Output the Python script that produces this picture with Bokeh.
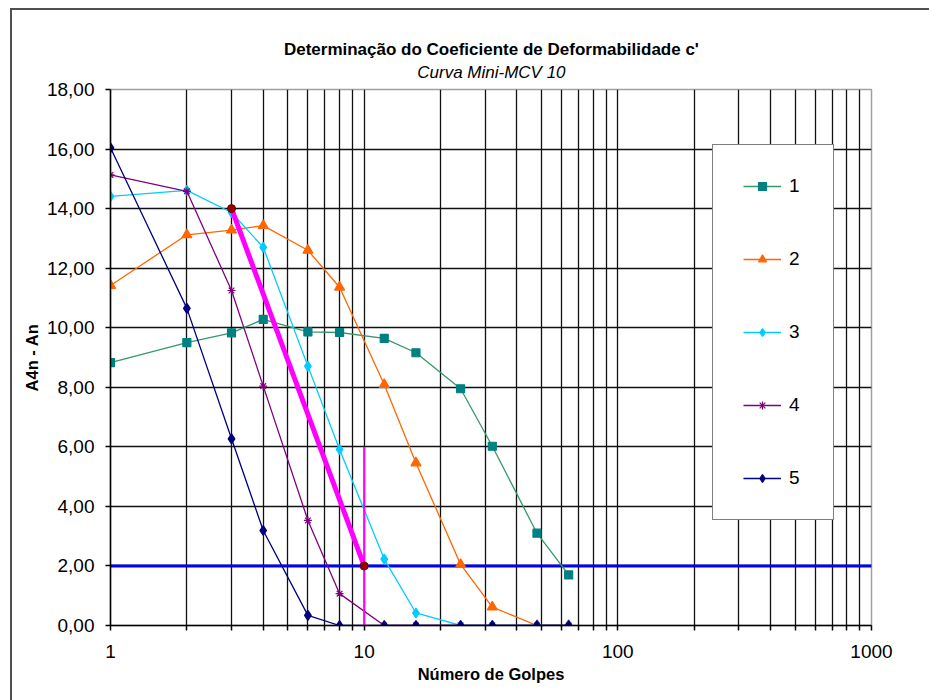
from bokeh.plotting import figure
from bokeh.layouts import column
from bokeh.models import FixedTicker, Range1d
from bokeh.core.properties import value
from bokeh.embed import file_html
from bokeh.resources import INLINE

# Número de golpes (Mini-MCV) and A4n - An readings for each curve
golpes = [1, 2, 3, 4, 6, 8, 12, 16, 24, 32, 48, 64]
curva_1 = [8.83, 9.50, 9.83, 10.28, 9.86, 9.84, 9.64, 9.16, 7.95, 6.02, 3.10, 1.70]
curva_2 = [11.42, 13.12, 13.28, 13.43, 12.60, 11.36, 8.09, 5.46, 2.05, 0.62, 0.00, 0.00]
curva_3 = [14.41, 14.61, 13.87, 12.70, 8.71, 5.91, 2.23, 0.42, 0.00, 0.00, 0.00, 0.00]
curva_4 = [15.13, 14.58, 11.25, 8.04, 3.53, 1.07, 0.00, 0.00, 0.00, 0.00, 0.00, 0.00]
curva_5 = [16.04, 10.65, 6.27, 3.19, 0.34, 0.00, 0.00, 0.00, 0.00, 0.00, 0.00, 0.00]
nomes = ["1", "2", "3", "4", "5"]

# Mini-MCV 10 construction: slope line c' and reference lines
reta_c_x = [3, 10]
reta_c_y = [14.0, 2.0]
vertical_x = [10, 10]
vertical_y = [0.0, 6.0]
referencia_y = 2.0

# Axis ticks
x_ticks = [1, 10, 100, 1000]
x_labels = ["1", "10", "100", "1000"]
y_ticks = [0, 2, 4, 6, 8, 10, 12, 14, 16, 18]
y_labels = ["0,00", "2,00", "4,00", "6,00", "8,00", "10,00", "12,00", "14,00", "16,00", "18,00"]

titulo = "Determinação do Coeficiente de Deformabilidade c'"
subtitulo = "Curva Mini-MCV 10"

FONT = "Liberation Sans"

# ---- heading strip (pixel coordinates, y pointing down) ----
head = figure(
    width=917, height=78,
    x_range=Range1d(0, 917), y_range=Range1d(78, 0),
    x_axis_location=None, y_axis_location=None, title=None,
    output_backend="svg", toolbar_location=None,
    min_border_left=0, min_border_right=0, min_border_top=0, min_border_bottom=0,
    background_fill_color="white", border_fill_color="white",
)
head.outline_line_color = None
head.grid.visible = False
head.text(x=[459], y=[39.3], text=[titulo], text_align="center",
          text_baseline="alphabetic", text_font=value(FONT),
          text_font_style="bold", text_font_size=value("17px"), text_color="black")
head.text(x=[459], y=[61.5], text=[subtitulo], text_align="center",
          text_baseline="alphabetic", text_font=value(FONT),
          text_font_style="italic", text_font_size=value("17px"), text_color="black")

# ---- chart (tucked slightly under the heading strip) ----
p = figure(
    width=917, height=625,
    x_axis_type="log",
    x_range=Range1d(1, 1000), y_range=Range1d(0, 18),
    title=None, margin=(-13, 0, 0, 0),
    output_backend="svg", toolbar_location=None,
    min_border_left=98, min_border_right=58,
    min_border_top=14, min_border_bottom=75,
    background_fill_color="white",
)
p.border_fill_alpha = 0
p.outline_line_color = "#a0a0a0"
p.outline_line_width = 1.5

minor_x = [m * 10 ** k for k in range(3) for m in range(2, 10)]

p.xaxis.ticker = FixedTicker(ticks=x_ticks, minor_ticks=minor_x)
p.xaxis.major_label_overrides = dict(zip(x_ticks, x_labels))
p.yaxis.ticker = FixedTicker(ticks=y_ticks)
p.yaxis.major_label_overrides = dict(zip(y_ticks, y_labels))

for ax in (p.xaxis[0], p.yaxis[0]):
    ax.axis_line_color = "black"
    ax.axis_line_width = 1.5
    ax.major_tick_line_color = "black"
    ax.major_tick_line_width = 1.5
    ax.major_tick_in = 0
    ax.major_tick_out = 5
    ax.major_label_text_font = FONT
    ax.major_label_text_font_size = "19px"
    ax.major_label_text_color = "black"
    ax.axis_label_text_font = FONT
    ax.axis_label_text_font_style = "bold"
    ax.axis_label_text_font_size = "16.5px"
    ax.axis_label_text_color = "black"

p.xaxis.minor_tick_line_color = "black"
p.xaxis.minor_tick_line_width = 1.5
p.xaxis.minor_tick_in = 0
p.xaxis.minor_tick_out = 5
p.yaxis.minor_tick_line_color = None
p.xaxis.major_label_standoff = 14
p.yaxis.major_label_standoff = 11
p.xaxis.axis_label = "Número de Golpes"
p.yaxis.axis_label = "A4n - An"
p.xaxis.axis_label_standoff = 4
p.yaxis.axis_label_standoff = 3

# grid (edges are left to the frame outline)
p.xgrid.ticker = FixedTicker(ticks=[10, 100], minor_ticks=minor_x)
p.xgrid.grid_line_color = "#111111"
p.xgrid.grid_line_width = 1.3
p.xgrid.minor_grid_line_color = "#111111"
p.xgrid.minor_grid_line_width = 1.3
p.ygrid.ticker = FixedTicker(ticks=y_ticks[1:-1])
p.ygrid.grid_line_color = "#111111"
p.ygrid.grid_line_width = 1.3

# horizontal reference at A4n - An = 2
p.line([1, 1000], [referencia_y, referencia_y], line_color="#0000FF", line_width=3)

estilos = {
    "1": dict(line="#339966", marker="square", fill="#008080", size=8),
    "2": dict(line="#FF6600", marker="triangle", fill="#FF6600", size=10),
    "3": dict(line="#00CCFF", marker="diamond", fill="#00CCFF", size=10),
    "4": dict(line="#800080", marker="asterisk", fill="#800080", size=8),
    "5": dict(line="#000080", marker="diamond", fill="#000080", size=10),
}
curvas = [curva_1, curva_2, curva_3, curva_4, curva_5]

for nome, valores in zip(nomes, curvas):
    st = estilos[nome]
    p.line(golpes, valores, line_color=st["line"], line_width=1.3, legend_label=nome)
    p.scatter(golpes, valores, marker=st["marker"], size=st["size"],
              fill_color=st["fill"], line_color=st["fill"], line_width=1.2,
              legend_label=nome)

# c' slope line and the vertical at 10 golpes
p.line(vertical_x, vertical_y, line_color="#FF00FF", line_width=2)
p.line(reta_c_x, reta_c_y, line_color="#FF00FF", line_width=5)
p.scatter(reta_c_x, reta_c_y, marker="circle", size=8,
          fill_color="#990000", line_color="#660000", line_width=1)

# legend
lg = p.legend[0]
lg.location = (602, 105)
lg.orientation = "vertical"
lg.padding = 30
lg.spacing = 51
lg.margin = 0
lg.glyph_width = 38
lg.glyph_height = 20
lg.label_height = 20
lg.label_width = 14
lg.label_standoff = 8
lg.label_text_font = FONT
lg.label_text_font_size = "19px"
lg.label_text_color = "black"
lg.label_text_baseline = "middle"
lg.border_line_color = "black"
lg.border_line_width = 1.5
lg.background_fill_color = "white"
lg.background_fill_alpha = 1.0

# chart area with its left/top border
page = column(
    head, p, spacing=0, margin=(8, 0, 0, 10),
    styles={"border-left": "2px solid #505050", "border-top": "2px solid #505050"},
)

open("out.html", "w").write(file_html(page, INLINE))
